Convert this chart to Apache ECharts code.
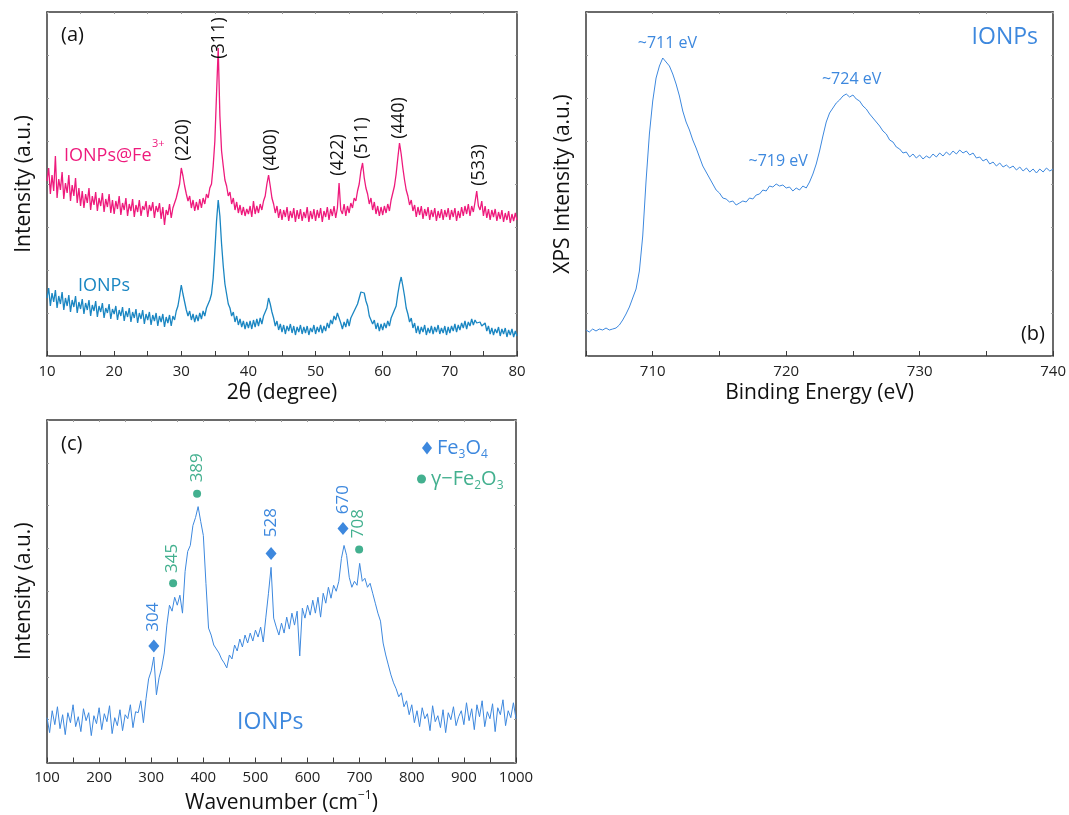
<!DOCTYPE html>
<html>
<head>
<meta charset="utf-8">
<script src="https://cdn.jsdelivr.net/npm/echarts@6/dist/echarts.min.js"></script>
<style>
html, body {margin: 0; padding: 0; background: #fff;}
#main {width: 1069px; height: 815px;}
</style>
</head>
<body>
<div id="main"></div>
<script>
// (a) XRD, 2theta 10..80 read every 0.25 degree (height in plot units, 0..344)
var xrdStart = 10, xrdStep = 0.25;
var xrdFe3 = [
    175,188,162,181,165,200,158,177,166,184,157,173,163,181,155,171,160,178,153,168,
    150,165,148,162,153,168,146,160,151,164,145,158,150,163,144,157,149,162,143,156,
    142,155,147,160,141,153,146,158,140,152,145,157,139,151,144,156,140,150,146,155,
    139,151,145,154,138,150,144,153,137,149,131,146,141,152,138,148,150,158,165,172,
    188,180,170,162,155,160,148,156,145,154,146,157,148,158,152,162,158,168,172,190,
    215,262,308,240,205,190,176,170,160,164,152,158,146,154,143,151,141,149,140,147,
    142,150,139,155,142,150,143,152,146,155,160,172,181,170,158,152,143,150,138,147,
    136,146,139,149,135,145,138,148,134,146,137,147,135,144,138,149,134,145,137,147,
    135,146,138,148,134,145,139,149,136,147,140,150,138,148,173,146,142,152,140,150,
    143,153,148,158,155,165,172,185,193,178,168,162,152,158,146,154,142,150,140,149,
    141,150,143,152,145,156,158,170,182,198,213,202,188,176,166,160,151,156,145,151,
    139,149,141,150,137,147,140,149,136,146,139,148,135,145,138,147,136,146,139,148,
    136,146,139,148,135,145,138,149,140,150,142,152,140,150,144,154,165,150,146,155,
    140,150,138,147,136,146,139,147,135,144,137,146,134,143,136,145,133,142,135,143,
    136
];
var xrdIonp = [
    58,68,50,63,54,66,48,60,52,64,46,58,50,61,44,56,49,60,43,54,
    47,57,42,53,46,56,40,51,45,55,39,50,44,53,38,48,43,52,37,47,
    42,50,36,46,40,49,35,45,39,48,34,44,38,47,33,43,37,46,32,42,
    36,44,31,41,35,43,30,40,34,42,29,39,33,41,30,40,36,45,50,60,
    71,62,54,46,40,45,36,42,34,41,35,43,37,45,40,48,46,56,62,78,
    105,135,156,140,112,90,72,62,52,48,40,44,34,40,31,37,29,35,27,34,
    28,35,27,36,29,37,30,38,32,40,38,48,58,52,44,38,30,35,26,32,
    24,31,22,30,25,32,23,30,21,29,24,31,22,29,23,30,21,28,24,31,
    22,29,24,31,23,30,25,33,28,36,32,40,36,43,38,33,27,34,29,37,
    30,38,36,45,44,52,58,64,66,63,55,50,40,42,32,36,27,33,25,32,
    26,33,28,35,30,38,36,46,50,62,72,79,70,60,48,42,34,38,28,33,
    23,30,22,29,24,31,21,28,23,30,22,29,24,31,22,28,23,30,21,29,
    23,30,25,32,24,31,26,33,28,35,27,34,30,37,31,36,33,35,34,30,
    29,33,25,30,22,28,21,27,23,29,20,27,22,28,19,26,21,27,19,25,
    20
];
var hklNames = ['(220)', '(311)', '(400)', '(422)', '(511)', '(440)', '(533)'];
var hklAngle = [30.26, 35.6, 43.4, 53.3, 56.9, 62.4, 74.3];
var hklHeight = [216, 318, 206, 201, 218, 238, 191];

// (b) XPS Fe 2p, 705..740 eV every 0.25 eV
var xpsStart = 705, xpsStep = 0.25;
var xpsIonp = [
    26,24,27,25,27,26,28,26,27,28,31,36,42,49,58,67,85,120,175,222,
    255,278,290,298,294,290,282,272,260,245,234,226,216,208,199,190,184,178,172,166,
    163,158,157,154,155,151,153,155,154,158,157,161,162,166,165,170,169,172,170,171,
    168,169,165,168,166,170,168,174,182,192,205,220,234,243,248,253,256,260,262,259,
    261,257,255,250,247,242,238,234,230,225,222,216,214,209,207,203,204,199,202,198,
    201,197,200,198,202,199,203,200,204,201,205,202,206,203,205,201,203,198,199,195,
    197,192,194,190,193,189,191,188,190,186,189,185,188,184,187,183,187,184,188,185,
    187
];
var xpsNames = ['~711 eV', '~719 eV', '~724 eV'];
var xpsLabelX = [711.1, 719.4, 724.9];
var xpsLabelY = [313, 195, 277];

// (c) Raman, 100..1000 cm-1 every 5 cm-1
var ramanStart = 100, ramanStep = 5;
var ramanIonp = [
    45,30,52,38,56,34,48,28,50,40,58,36,46,31,54,42,50,27,47,39,
    55,33,49,41,57,29,45,37,53,32,48,44,58,35,51,50,62,40,64,84,
    92,106,68,85,95,110,138,158,152,166,158,168,150,192,212,218,238,246,257,242,
    228,180,135,128,118,114,110,104,100,95,108,104,118,112,124,116,128,120,130,122,
    133,126,136,121,146,170,196,145,136,128,140,130,146,134,150,138,152,107,155,145,
    158,148,163,150,166,146,170,160,176,165,178,172,182,205,218,208,186,176,182,178,
    200,182,185,176,180,170,160,150,142,120,108,98,88,80,74,66,70,56,62,48,
    58,40,52,36,55,44,49,32,57,41,47,35,53,30,50,43,56,37,46,52,
    38,60,42,54,33,58,46,62,36,51,44,59,31,55,48,63,37,52,45,60,
    44
];
var fe3o4Shift = [305, 530, 668];
var fe3o4Height = [117, 210, 235];
var fe2o3Shift = [342, 388, 699];
var fe2o3Height = [180, 270, 214];
var ramanNames = ['304', '345', '389', '528', '670', '708'];
var ramanLabelX = [303, 340, 388, 530, 668, 697];
var ramanLabelY = [146, 205, 296, 241, 264, 240];
var ramanLabelPhase = ['Fe3O4', 'Fe2O3', 'Fe2O3', 'Fe3O4', 'Fe3O4', 'Fe2O3'];

var pink = '#ee1a7c';
var xrdBlue = '#1a86c2';
var blue = '#3d88de';
var green = '#43b08f';
var axisColor = '#3a3a3a';
var font = '"Open Sans", "Noto Sans", sans-serif';

function toPairs(start, step, values) {
    return values.map(function (v, i) {
        return [start + i * step, v];
    });
}

function labelItems(names, xs, ys) {
    return names.map(function (n, i) {
        return {name: n, value: [xs[i], ys[i]]};
    });
}

function plainNumber(v) {
    return String(v);
}

function xAxesFor(grid, min, max, interval, minor, name, fmt) {
    var list = [];
    ['bottom', 'top'].forEach(function (pos) {
        var ax = {
            type: 'value', gridIndex: grid, position: pos,
            min: min, max: max, interval: interval,
            axisLine: {show: true, onZero: false, lineStyle: {color: axisColor, width: 1.5}},
            axisTick: {show: true, inside: true, length: pos === 'bottom' ? 5 : 2, lineStyle: {color: pos === 'bottom' ? axisColor : '#999'}},
            minorTick: {show: minor > 1, splitNumber: minor, length: pos === 'bottom' ? 5 : 2, lineStyle: {color: pos === 'bottom' ? axisColor : '#999'}},
            splitLine: {show: false},
            axisLabel: {show: false}
        };
        if (pos === 'bottom') {
            ax.name = name;
            ax.nameLocation = 'middle';
            ax.nameGap = 27;
            ax.nameTextStyle = {
                fontSize: 21, color: '#111', fontFamily: font,
                rich: {
                    n: {fontSize: 21, color: '#111', fontFamily: font, lineHeight: 28},
                    s: {fontSize: 12, color: '#111', fontFamily: font, verticalAlign: 'top'}
                }
            };
            ax.axisLabel = {show: true, fontSize: 15, color: '#222', margin: 8, fontFamily: font, formatter: fmt || plainNumber};
        }
        list.push(ax);
    });
    return list;
}

function yAxesFor(grid, name) {
    var list = [];
    ['left', 'right'].forEach(function (pos) {
        var ax = {
            type: 'value', gridIndex: grid, position: pos,
            min: 0, max: 344, interval: 43,
            axisLine: {show: true, onZero: false, lineStyle: {color: axisColor, width: 1.5}},
            axisTick: {show: true, inside: true, length: 2, lineStyle: {color: '#999'}},
            splitLine: {show: false},
            axisLabel: {show: false}
        };
        if (pos === 'left') {
            ax.name = name;
            ax.nameLocation = 'middle';
            ax.nameGap = 12;
            ax.nameTextStyle = {fontSize: 21, color: '#111', fontFamily: font};
        }
        list.push(ax);
    });
    return list;
}

function lineSeries(xi, yi, data, color, width) {
    return {
        type: 'line', xAxisIndex: xi, yAxisIndex: yi, data: data,
        showSymbol: false, symbol: 'none', silent: true,
        lineStyle: {color: color, width: width}
    };
}

function textSeries(xi, yi, data, rotate, size, color) {
    return {
        type: 'scatter', xAxisIndex: xi, yAxisIndex: yi, data: data,
        symbolSize: 1, silent: true, z: 5,
        itemStyle: {color: 'rgba(0,0,0,0)', opacity: 1},
        label: {
            show: true, position: 'inside', rotate: rotate, formatter: '{b}',
            fontSize: size, color: color, fontFamily: font, opacity: 1
        }
    };
}

var ramanLabels = labelItems(ramanNames, ramanLabelX, ramanLabelY).map(function (d, i) {
    d.label = {color: ramanLabelPhase[i] === 'Fe3O4' ? blue : green};
    return d;
});

var fe3o4Pts = fe3o4Shift.map(function (x, i) { return [x, fe3o4Height[i]]; });
var fe2o3Pts = fe2o3Shift.map(function (x, i) { return [x, fe2o3Height[i]]; });

var legendRich = {
    n: {fontSize: 20, fontFamily: font, lineHeight: 26},
    s: {fontSize: 12, fontFamily: font, verticalAlign: 'bottom'}
};

var option = {
    animation: false,
    textStyle: {fontFamily: font},
    grid: [
        {left: 47, top: 12, width: 470, height: 344},
        {left: 586, top: 12, width: 470, height: 344},
        {left: 47, top: 420, width: 469, height: 344}
    ],
    xAxis: [].concat(
        xAxesFor(0, 10, 80, 10, 2, '2θ (degree)'),
        xAxesFor(1, 705, 740, 5, 0, 'Binding Energy (eV)', function (v) {
            return v % 10 === 0 ? String(v) : '';
        }),
        xAxesFor(2, 100, 1000, 100, 2, '{n|Wavenumber (cm}{s|−1}{n|)}')
    ),
    yAxis: [].concat(
        yAxesFor(0, 'Intensity (a.u.)'),
        yAxesFor(1, 'XPS Intensity (a.u.)'),
        yAxesFor(2, 'Intensity (a.u.)')
    ),
    legend: [
        {
            left: 417, top: 433, itemWidth: 10, itemHeight: 13,
            data: [{name: 'Fe3O4', icon: 'diamond', textStyle: {color: blue}}],
            formatter: function () { return '{n|Fe}{s|3}{n|O}{s|4}'; },
            textStyle: {color: blue, rich: legendRich},
            selectedMode: false
        },
        {
            left: 412, top: 464, itemWidth: 9, itemHeight: 9,
            data: [{name: 'γ−Fe2O3', icon: 'circle', textStyle: {color: green}}],
            formatter: function () { return '{n|γ−Fe}{s|2}{n|O}{s|3}'; },
            textStyle: {color: green, rich: legendRich},
            selectedMode: false
        }
    ],
    series: [
        lineSeries(0, 0, toPairs(xrdStart, xrdStep, xrdFe3), pink, 1.3),
        lineSeries(0, 0, toPairs(xrdStart, xrdStep, xrdIonp), xrdBlue, 1.3),
        textSeries(0, 0, labelItems(hklNames, hklAngle, hklHeight), 90, 18, '#111'),
        lineSeries(2, 2, toPairs(xpsStart, xpsStep, xpsIonp), blue, 1),
        textSeries(2, 2, labelItems(xpsNames, xpsLabelX, xpsLabelY), 0, 16, blue),
        lineSeries(4, 4, toPairs(ramanStart, ramanStep, ramanIonp), blue, 1),
        {
            name: 'Fe3O4', type: 'scatter', xAxisIndex: 4, yAxisIndex: 4,
            data: fe3o4Pts, symbol: 'diamond', symbolSize: [11, 13],
            itemStyle: {color: blue, opacity: 1}, silent: true, z: 4
        },
        {
            name: 'γ−Fe2O3', type: 'scatter', xAxisIndex: 4, yAxisIndex: 4,
            data: fe2o3Pts, symbol: 'circle', symbolSize: 8,
            itemStyle: {color: green, opacity: 1}, silent: true, z: 4
        },
        textSeries(4, 4, ramanLabels, 90, 17, blue)
    ],
    graphic: [
        {type: 'text', x: 61, y: 35, style: {text: '(a)', fontSize: 20, fontFamily: font, fill: '#111', verticalAlign: 'middle'}},
        {type: 'text', x: 64, y: 156, style: {text: 'IONPs@Fe', fontSize: 18, fontFamily: font, fill: pink, verticalAlign: 'middle'}},
        {type: 'text', x: 152, y: 144, style: {text: '3+', fontSize: 11, fontFamily: font, fill: pink, verticalAlign: 'middle'}},
        {type: 'text', x: 78, y: 286, style: {text: 'IONPs', fontSize: 18, fontFamily: font, fill: xrdBlue, verticalAlign: 'middle'}},
        {type: 'text', x: 1038, y: 37, style: {text: 'IONPs', fontSize: 23, fontFamily: font, fill: blue, align: 'right', verticalAlign: 'middle'}},
        {type: 'text', x: 1045, y: 334, style: {text: '(b)', fontSize: 20, fontFamily: font, fill: '#111', align: 'right', verticalAlign: 'middle'}},
        {type: 'text', x: 61, y: 444, style: {text: '(c)', fontSize: 20, fontFamily: font, fill: '#111', verticalAlign: 'middle'}},
        {type: 'text', x: 237, y: 722, style: {text: 'IONPs', fontSize: 23, fontFamily: font, fill: blue, verticalAlign: 'middle'}}
    ]
};

var chart = echarts.init(document.getElementById('main'));
chart.setOption(option);
</script>
</body>
</html>
